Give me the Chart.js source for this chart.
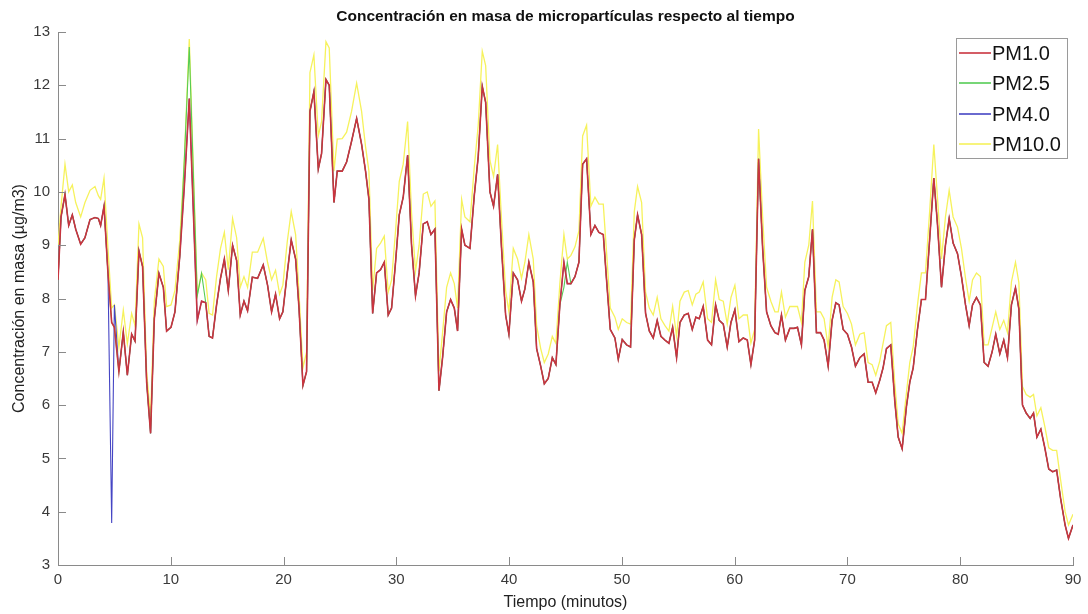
<!DOCTYPE html>
<html>
<head>
<meta charset="utf-8">
<script src="https://cdn.jsdelivr.net/npm/chart.js"></script>
<style>
  html, body { margin: 0; padding: 0; background: #fff; }
  #wrap { width: 1088px; height: 614px; }
</style>
</head>
<body>
<div id="wrap"><canvas id="grafica" width="1088" height="614"></canvas></div>
<script>
// Tiempo en minutos (vértices)
const tiempo = [
  0,0.27,0.62,0.95,1.27,1.57,2.01,2.39,2.84,3.28,
  3.58,3.78,4.08,4.43,4.76,5.0,5.4,5.79,6.15,6.53,
  6.83,7.18,7.5,7.86,8.21,8.54,8.95,9.34,9.63,10.02,
  10.37,10.8,11.2,11.64,12.35,12.73,13.1,13.4,13.7,14.06,
  14.41,14.75,15.1,15.48,15.84,16.16,16.49,16.81,17.23,17.7,
  18.2,18.58,18.94,19.29,19.65,19.94,20.33,20.68,21.07,21.37,
  21.72,22.04,22.34,22.69,23.08,23.37,23.76,24.05,24.47,24.76,
  25.2,25.59,26.03,26.48,26.92,27.27,27.57,27.9,28.25,28.6,
  28.93,29.28,29.58,29.93,30.26,30.61,31.0,31.35,31.7,32.02,
  32.39,32.74,33.07,33.42,33.78,34.1,34.46,34.81,35.14,35.43,
  35.79,36.08,36.53,36.91,37.26,37.62,37.92,38.3,38.62,38.98,
  39.33,39.69,39.98,40.37,40.75,41.1,41.4,41.75,42.14,42.44,
  42.8,43.12,43.47,43.83,44.15,44.5,44.86,45.16,45.48,45.84,
  46.19,46.52,46.87,47.25,47.61,47.96,48.35,48.64,48.97,49.38,
  49.68,50.03,50.42,50.77,51.1,51.39,51.75,52.1,52.43,52.78,
  53.13,53.46,53.82,54.17,54.5,54.85,55.15,55.53,55.88,56.24,
  56.56,56.86,57.21,57.6,57.95,58.31,58.63,58.99,59.34,59.67,
  60.02,60.38,60.76,61.12,61.44,61.77,62.12,62.48,62.83,63.21,
  63.57,63.86,64.15,64.5,64.89,65.27,65.57,65.92,66.22,66.57,
  66.9,67.25,67.61,67.93,68.29,68.64,68.97,69.26,69.62,70.0,
  70.36,70.71,71.1,71.48,71.83,72.19,72.51,72.87,73.16,73.46,
  73.84,74.2,74.5,74.85,75.23,75.53,75.83,76.21,76.56,76.92,
  77.3,77.66,77.98,78.34,78.69,79.02,79.37,79.76,80.11,80.47,
  80.79,81.09,81.44,81.79,82.12,82.47,82.83,83.15,83.51,83.86,
  84.19,84.54,84.9,85.2,85.52,85.85,86.2,86.5,86.8,87.15,
  87.5,87.85,88.2,88.55,88.9,89.3,89.6,90.0
];

const pm1 = [
  8.35,9.53,9.95,9.37,9.57,9.3,9.02,9.14,9.48,9.52,
  9.5,9.37,9.73,8.48,7.55,7.46,6.63,7.37,6.56,7.33,
  7.2,8.89,8.6,6.43,5.47,7.62,8.47,8.21,7.39,7.46,
  7.75,8.8,10.1,11.75,7.59,7.95,7.92,7.29,7.26,7.88,
  8.38,8.74,8.15,9.0,8.71,7.69,7.95,7.77,8.4,8.38,
  8.63,8.25,7.75,8.08,7.62,7.75,8.48,9.1,8.74,7.82,
  6.37,6.63,11.51,11.88,10.43,10.72,12.11,12.0,9.8,10.39,
  10.39,10.56,10.95,11.38,10.89,10.39,9.86,7.72,8.48,8.54,
  8.68,7.69,7.82,8.68,9.57,9.9,10.69,9.0,8.05,8.48,
  9.4,9.44,9.2,9.3,6.27,6.89,7.75,7.98,7.82,7.39,
  9.3,9.0,8.94,9.93,10.66,11.98,11.68,10.0,9.73,10.33,
  8.94,7.69,7.33,8.48,8.35,7.95,8.18,8.68,8.31,7.06,
  6.73,6.4,6.5,6.89,6.76,7.88,8.68,8.28,8.28,8.41,
  8.68,10.52,10.62,9.2,9.37,9.24,9.2,8.35,7.42,7.26,
  6.86,7.23,7.13,7.09,9.1,9.57,9.2,7.72,7.39,7.26,
  7.59,7.29,7.22,7.16,7.46,6.89,7.55,7.69,7.72,7.42,
  7.65,7.62,7.85,7.22,7.13,7.88,7.59,7.52,7.09,7.55,
  7.79,7.19,7.26,7.22,6.76,7.22,10.62,8.94,7.75,7.49,
  7.36,7.33,7.69,7.22,7.44,7.44,7.46,7.13,8.15,8.41,
  9.3,7.36,7.36,7.22,6.73,7.59,7.92,7.88,7.42,7.33,
  7.09,6.73,6.89,6.96,6.43,6.43,6.23,6.47,6.7,7.06,
  7.13,6.07,5.4,5.18,5.97,6.43,6.7,7.42,7.98,7.98,
  9.14,10.26,9.4,8.21,9.0,9.5,9.04,8.84,8.41,7.88,
  7.49,7.88,8.02,7.88,6.8,6.73,7.0,7.33,6.96,7.22,
  6.89,7.88,8.2,7.8,6.0,5.85,5.75,5.85,5.4,5.55,
  5.2,4.8,4.75,4.78,4.25,3.75,3.5,3.75
];

const pm25 = [
  8.35,9.53,9.95,9.37,9.57,9.3,9.02,9.14,9.48,9.52,
  9.5,9.37,9.73,8.48,7.55,7.46,6.63,7.37,6.56,7.33,
  7.2,8.89,8.6,6.43,5.47,7.62,8.47,8.21,7.39,7.46,
  7.75,8.8,10.6,12.72,8.05,8.47,7.92,7.29,7.26,7.88,
  8.38,8.74,8.15,9.0,8.71,7.69,7.95,7.77,8.4,8.38,
  8.63,8.25,7.75,8.08,7.62,7.75,8.48,9.1,8.74,7.82,
  6.37,6.63,11.51,11.88,10.43,10.72,12.11,12.0,9.8,10.39,
  10.39,10.56,10.95,11.38,10.89,10.39,9.86,7.72,8.48,8.54,
  8.68,7.69,7.82,8.68,9.57,9.9,10.69,9.0,8.05,8.48,
  9.4,9.44,9.2,9.3,6.27,6.89,7.75,7.98,7.82,7.39,
  9.3,9.0,8.94,9.93,10.66,11.98,11.68,10.0,9.73,10.33,
  8.94,7.69,7.33,8.48,8.35,7.95,8.18,8.68,8.31,7.06,
  6.73,6.4,6.5,6.89,6.76,7.88,8.21,8.68,8.28,8.41,
  8.68,10.52,10.62,9.2,9.37,9.24,9.2,8.35,7.42,7.26,
  6.86,7.23,7.13,7.09,9.1,9.57,9.2,7.72,7.39,7.26,
  7.59,7.29,7.22,7.16,7.46,6.89,7.55,7.69,7.72,7.42,
  7.65,7.62,7.85,7.22,7.13,7.88,7.59,7.52,7.09,7.55,
  7.79,7.19,7.26,7.22,6.76,7.22,10.62,8.94,7.75,7.49,
  7.36,7.33,7.69,7.22,7.44,7.44,7.46,7.13,8.15,8.41,
  9.3,7.36,7.36,7.22,6.73,7.59,7.92,7.88,7.42,7.33,
  7.09,6.73,6.89,6.96,6.43,6.43,6.23,6.47,6.7,7.06,
  7.13,6.07,5.4,5.18,5.97,6.43,6.7,7.42,7.98,7.98,
  9.14,10.26,9.4,8.21,9.0,9.5,9.04,8.84,8.41,7.88,
  7.49,7.88,8.02,7.88,6.8,6.73,7.0,7.33,6.96,7.22,
  6.89,7.88,8.2,7.8,6.0,5.85,5.75,5.85,5.4,5.55,
  5.2,4.8,4.75,4.78,4.25,3.75,3.5,3.75
];

const pm4 = [
  8.35,9.53,9.95,9.37,9.57,9.3,9.02,9.14,9.48,9.52,
  9.5,9.37,9.73,8.48,3.79,7.88,6.63,7.37,6.56,7.33,
  7.2,8.89,8.6,6.43,5.47,7.62,8.47,8.21,7.39,7.46,
  7.75,8.8,10.1,11.75,7.59,7.95,7.92,7.29,7.26,7.88,
  8.38,8.74,8.15,9.0,8.71,7.69,7.95,7.77,8.4,8.38,
  8.63,8.25,7.75,8.08,7.62,7.75,8.48,9.1,8.74,7.82,
  6.37,6.63,11.51,11.88,10.43,10.72,12.11,12.0,9.8,10.39,
  10.39,10.56,10.95,11.38,10.89,10.39,9.86,7.72,8.48,8.54,
  8.68,7.69,7.82,8.68,9.57,9.9,10.69,9.0,8.05,8.48,
  9.4,9.44,9.2,9.3,6.27,6.89,7.75,7.98,7.82,7.39,
  9.3,9.0,8.94,9.93,10.66,11.98,11.68,10.0,9.73,10.33,
  8.94,7.69,7.33,8.48,8.35,7.95,8.18,8.68,8.31,7.06,
  6.73,6.4,6.5,6.89,6.76,7.88,8.68,8.28,8.28,8.41,
  8.68,10.52,10.62,9.2,9.37,9.24,9.2,8.35,7.42,7.26,
  6.86,7.23,7.13,7.09,9.1,9.57,9.2,7.72,7.39,7.26,
  7.59,7.29,7.22,7.16,7.46,6.89,7.55,7.69,7.72,7.42,
  7.65,7.62,7.85,7.22,7.13,7.88,7.59,7.52,7.09,7.55,
  7.79,7.19,7.26,7.22,6.76,7.22,10.62,8.94,7.75,7.49,
  7.36,7.33,7.69,7.22,7.44,7.44,7.46,7.13,8.15,8.41,
  9.3,7.36,7.36,7.22,6.73,7.59,7.92,7.88,7.42,7.33,
  7.09,6.73,6.89,6.96,6.43,6.43,6.23,6.47,6.7,7.06,
  7.13,6.07,5.4,5.18,5.97,6.43,6.7,7.42,7.98,7.98,
  9.14,10.26,9.4,8.21,9.0,9.5,9.04,8.84,8.41,7.88,
  7.49,7.88,8.02,7.88,6.8,6.73,7.0,7.33,6.96,7.22,
  6.89,7.88,8.2,7.8,6.0,5.85,5.75,5.85,5.4,5.55,
  5.2,4.8,4.75,4.78,4.25,3.75,3.5,3.75
];

const pm10 = [
  9.0,9.73,10.52,10.0,10.13,9.8,9.53,9.8,10.03,10.1,
  9.93,9.86,10.26,8.94,7.82,7.88,7.09,7.78,7.15,7.72,
  7.49,9.4,9.14,6.63,5.77,7.95,8.74,8.6,7.85,7.88,
  8.15,9.1,10.6,12.87,8.08,8.48,8.35,7.72,7.69,8.41,
  8.94,9.24,8.54,9.5,9.14,8.21,8.41,8.21,8.87,8.87,
  9.13,8.68,8.35,8.53,8.08,8.25,9.07,9.63,9.2,8.1,
  6.7,7.0,12.24,12.57,11.05,11.32,12.82,12.7,10.39,10.99,
  11.0,11.12,11.51,12.04,11.51,10.85,10.39,8.15,8.94,9.04,
  9.17,8.12,8.35,9.27,10.2,10.52,11.32,9.6,8.51,9.0,
  9.96,10.0,9.73,9.83,6.63,7.36,8.21,8.48,8.28,7.82,
  9.86,9.53,9.44,10.46,11.25,12.64,12.37,10.59,10.29,10.89,
  9.47,8.15,7.75,8.94,8.74,8.38,8.68,9.2,8.74,7.49,
  7.06,6.8,6.96,7.29,7.16,8.28,9.2,8.74,8.81,8.97,
  9.27,11.05,11.25,9.73,9.9,9.77,9.77,8.87,7.82,7.65,
  7.42,7.62,7.55,7.52,9.63,10.1,9.8,8.12,7.82,7.69,
  8.02,7.62,7.49,7.39,7.85,7.29,7.95,8.12,8.15,7.88,
  8.08,8.12,8.31,7.62,7.55,8.35,7.98,7.95,7.52,8.02,
  8.25,7.62,7.69,7.69,7.16,7.42,11.18,9.53,8.21,7.95,
  7.75,7.75,8.12,7.65,7.85,7.85,7.85,7.55,8.68,9.0,
  9.83,7.75,7.75,7.62,7.09,8.02,8.35,8.31,7.85,7.72,
  7.52,7.13,7.33,7.36,6.8,6.76,6.56,6.83,7.16,7.49,
  7.55,6.4,5.65,5.47,6.23,6.8,7.09,7.88,8.48,8.48,
  9.67,10.89,9.9,8.74,9.53,10.03,9.53,9.34,8.94,8.38,
  7.95,8.35,8.48,8.41,7.13,7.13,7.46,7.75,7.42,7.59,
  7.36,8.31,8.68,8.3,6.35,6.2,6.15,6.2,5.8,5.95,
  5.6,5.2,5.15,5.15,4.6,4.0,3.75,3.95
];

const series = ['PM1.0', 'PM2.5', 'PM4.0', 'PM10.0'];
const xTicks = [0, 10, 20, 30, 40, 50, 60, 70, 80, 90];
const yTicks = [3, 4, 5, 6, 7, 8, 9, 10, 11, 12, 13];
const titulo = 'Concentración en masa de micropartículas respecto al tiempo';

const colores = ['#c9343f', '#55cc55', '#4545c4', '#f6f25c'];
const grosores = [1.6, 1.1, 1.1, 1.3];
const fuenteEjes = "'Liberation Sans Narrow', 'Liberation Sans', sans-serif";
const grisEje = '#8a8a8a';

function puntos(valores) {
  return tiempo.map((t, i) => ({ x: t, y: valores[i] }));
}

// título centrado sobre los ejes (como MATLAB)
const tituloEjes = {
  id: 'tituloEjes',
  afterDraw(chart) {
    const { ctx, chartArea: a } = chart;
    ctx.save();
    ctx.font = 'bold 15.5px ' + fuenteEjes;
    ctx.fillStyle = '#111';
    ctx.textAlign = 'center';
    ctx.textBaseline = 'middle';
    ctx.fillText(titulo, (a.left + a.right) / 2, 17);
    ctx.restore();
  }
};

// marcas de los ejes hacia dentro
const marcasDentro = {
  id: 'marcasDentro',
  afterDatasetsDraw(chart) {
    const { ctx, chartArea: a, scales: { x, y } } = chart;
    ctx.save();
    ctx.strokeStyle = grisEje;
    ctx.lineWidth = 1;
    ctx.beginPath();
    x.ticks.forEach(t => {
      const px = Math.round(x.getPixelForValue(t.value)) + 0.5;
      ctx.moveTo(px, a.bottom);
      ctx.lineTo(px, a.bottom - 8);
    });
    y.ticks.forEach(t => {
      const py = Math.round(y.getPixelForValue(t.value)) + 0.5;
      ctx.moveTo(a.left, py);
      ctx.lineTo(a.left + 8, py);
    });
    ctx.stroke();
    ctx.restore();
  }
};

// leyenda dentro del área, arriba a la derecha
const leyenda = {
  id: 'leyenda',
  afterDraw(chart) {
    const ctx = chart.ctx;
    const x0 = 956, y0 = 38, w = 111, h = 120;
    ctx.save();
    ctx.fillStyle = '#fff';
    ctx.fillRect(x0, y0, w, h);
    ctx.strokeStyle = '#9a9a9a';
    ctx.lineWidth = 1;
    ctx.strokeRect(x0 + 0.5, y0 + 0.5, w, h);
    ctx.font = "20px 'Liberation Sans', Arial, sans-serif";
    ctx.textBaseline = 'middle';
    chart.data.datasets.forEach((ds, i) => {
      const cy = Math.round(y0 + 15 + i * 30.3);
      ctx.strokeStyle = ds.borderColor;
      ctx.lineWidth = 1.6;
      ctx.beginPath();
      ctx.moveTo(x0 + 3, cy);
      ctx.lineTo(x0 + 35, cy);
      ctx.stroke();
      ctx.fillStyle = '#111';
      ctx.fillText(ds.label, x0 + 36, cy + 1);
    });
    ctx.restore();
  }
};

const ctx = document.getElementById('grafica').getContext('2d');
new Chart(ctx, {
  type: 'line',
  data: {
    datasets: [pm1, pm25, pm4, pm10].map((serie, i) => ({
      label: series[i],
      data: puntos(serie),
      borderColor: colores[i],
      backgroundColor: colores[i],
      borderWidth: grosores[i],
      pointRadius: 0,
      tension: 0,
      fill: false
    }))
  },
  options: {
    responsive: false,
    animation: false,
    devicePixelRatio: 1,
    layout: { padding: { top: 32, right: 15, bottom: 0, left: 0 } },
    plugins: {
      legend: { display: false },
      tooltip: { enabled: false },
      title: { display: false }
    },
    scales: {
      x: {
        type: 'linear',
        min: 0,
        max: 90,
        afterBuildTicks: s => { s.ticks = xTicks.map(v => ({ value: v })); },
        afterFit: s => { s.height = 49; },
        grid: { drawOnChartArea: false, drawTicks: false },
        border: { display: true, color: grisEje, width: 1 },
        ticks: { color: '#3a3a3a', padding: 6, font: { family: fuenteEjes, size: 15 }, maxRotation: 0 },
        title: {
          display: true,
          text: 'Tiempo (minutos)',
          color: '#222',
          font: { family: fuenteEjes, size: 16, lineHeight: 1.2 },
          padding: { top: 0, bottom: 2 }
        }
      },
      y: {
        min: 3,
        max: 13,
        afterBuildTicks: s => { s.ticks = yTicks.map(v => ({ value: v })); },
        afterFit: s => { s.width = 58; },
        grid: { drawOnChartArea: false, drawTicks: false },
        border: { display: true, color: grisEje, width: 1 },
        ticks: { color: '#3a3a3a', padding: 8, font: { family: fuenteEjes, size: 15 } },
        title: {
          display: true,
          text: 'Concentración en masa (µg/m3)',
          color: '#222',
          font: { family: fuenteEjes, size: 16, lineHeight: 1.2 },
          padding: { top: 10, bottom: 0 }
        }
      }
    }
  },
  plugins: [tituloEjes, marcasDentro, leyenda]
});
</script>
</body>
</html>
